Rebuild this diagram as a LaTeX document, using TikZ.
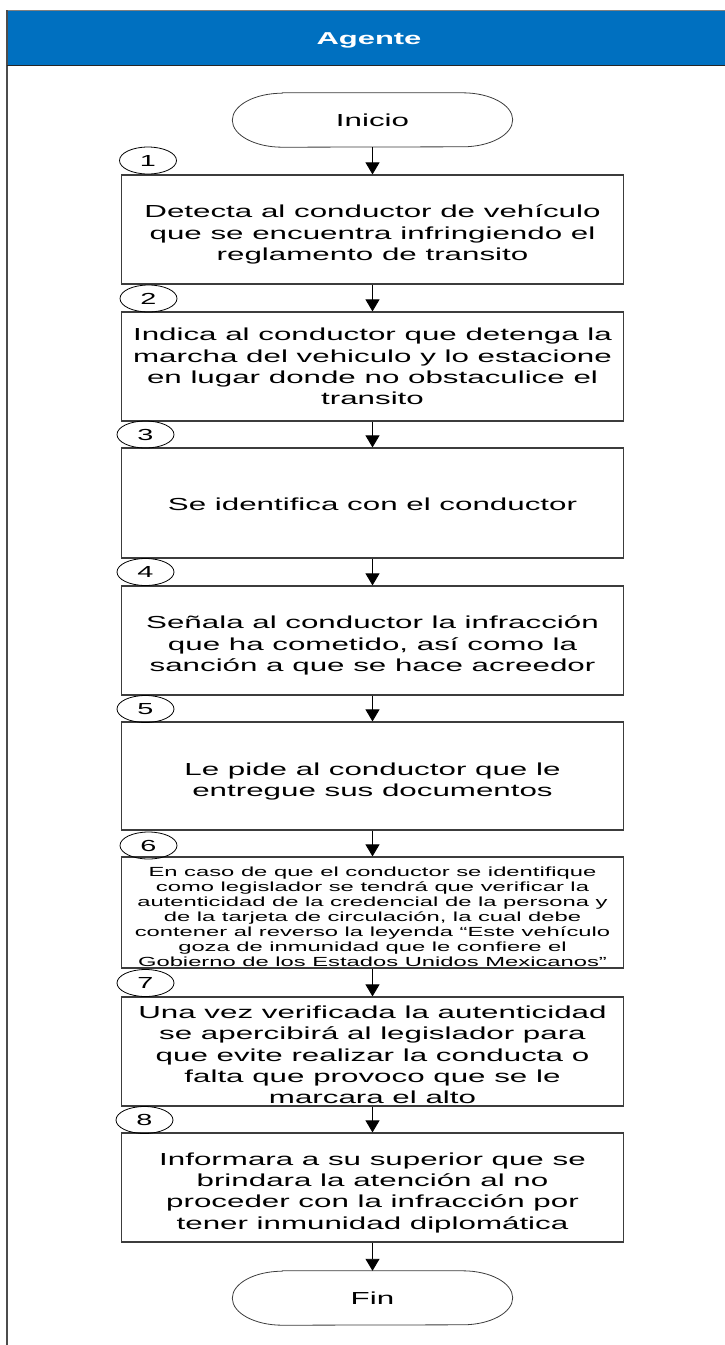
\documentclass[tikz,border=0pt]{standalone}
\usepackage{fontspec}
\setmainfont{Liberation Sans}
\newfontfamily\wfont{Liberation Sans}[FakeStretch=1.8]
\usetikzlibrary{shapes.geometric,arrows.meta}
\definecolor{lanehead}{RGB}{0,112,192}
\definecolor{edge}{RGB}{60,60,60}
\newcommand\TopS{\rule{0pt}{23.3pt}}
\newcommand\BotS{\rule[-4pt]{0pt}{4pt}}
\newcommand\TopR{\rule{0pt}{19.3pt}}
\newcommand\TopU{\rule{0pt}{20.5pt}}
\newcommand\BotU{\rule[-1.3pt]{0pt}{1.3pt}}
\newcommand\TopT{\rule{0pt}{18.9pt}}
\begin{document}
\begin{tikzpicture}[x=1pt,y=-1pt,
  stepbox/.style={draw=edge,line width=1.2pt,fill=white,minimum width=502pt,inner sep=1pt,align=center,
    font=\wfont\fontsize{17.4}{21.3}\selectfont},
  smallbox/.style={stepbox,font=\wfont\fontsize{13.2}{15}\selectfont},
  numtag/.style={draw=black,line width=0.8pt,ellipse,minimum width=57pt,minimum height=27pt,inner sep=0pt,
    font=\wfont\fontsize{16}{18}\selectfont},
  termbox/.style={minimum width=280pt,minimum height=54pt,inner sep=0pt,font=\wfont\fontsize{17.4}{21}\selectfont},
  termline/.style={draw=edge,line width=0.8pt},
  arr/.style={draw=black,line width=0.9pt,-{Triangle[width=14pt,length=12pt]}},
  header/.style={fill=lanehead,draw=gray,line width=1pt,minimum width=724pt,minimum height=55pt,inner sep=0pt,
    text=white,font=\wfont\bfseries\fontsize{17.2}{20}\selectfont}]
\useasboundingbox (0,0) rectangle (725,1345);
% lane
\node[header] (hdr) at (369,37.5) {\rule{0pt}{18.7pt}Agente\rule[-4pt]{0pt}{4pt}};
\coordinate (lanetop) at (7,10);
\coordinate (lanebot) at (7,1345);
\draw[draw=black!70,line width=2pt] (lanetop) -- (lanebot);
\draw[draw=black!85,line width=1.2pt] (hdr.south west) -- (hdr.south east);
% terminators
\node[termbox] (inicio) at (372.5,120) {Inicio};
\node[termbox] (fin) at (372.5,1298) {Fin};
\foreach \t in {inicio,fin}{
  \draw[termline] ([xshift=50]\t.north west) -- ([xshift=-50]\t.north east)
    arc[start angle=90,end angle=-90,x radius=50pt,y radius=27pt]
    -- ([xshift=50]\t.south west)
    arc[start angle=270,end angle=90,x radius=50pt,y radius=27pt] -- cycle;
}
% steps
\node[stepbox,minimum height=109pt] (b1) at (372.5,229.5) {\TopS Detecta al conductor de vehículo\\que se encuentra infringiendo el\\reglamento de transito\BotS};
\node[stepbox,minimum height=109pt] (b2) at (372.5,366.5) {Indica al conductor que detenga la\\marcha del vehiculo y lo estacione\\en lugar donde no obstaculice el\\transito};
\node[stepbox,minimum height=110pt] (b3) at (372.5,503) {\TopR Se identifica con el conductor\BotS};
\node[stepbox,minimum height=109pt] (b4) at (372.5,640.5) {\TopS Señala al conductor la infracción\\que ha cometido, así como la\\sanción a que se hace acreedor\BotS};
\node[stepbox,minimum height=108pt] (b5) at (372.5,776) {\TopS Le pide al conductor que le\\entregue sus documentos\BotS};
\node[smallbox,minimum height=111pt] (b6) at (372.5,912.5) {\TopT En caso de que el conductor se identifique\\como legislador se tendrá que verificar la\\autenticidad de la credencial de la persona y\\de la tarjeta de circulación, la cual debe\\contener al reverso la leyenda “Este vehículo\\goza de inmunidad que le confiere el\\Gobierno de los Estados Unidos Mexicanos”};
\node[stepbox,minimum height=109pt] (b7) at (372.5,1051.5) {\TopU Una vez verificada la autenticidad\\se apercibirá al legislador para\\que evite realizar la conducta o\\falta que provoco que se le\\marcara el alto\BotU};
\node[stepbox,minimum height=109pt] (b8) at (372.5,1187.5) {\TopS Informara a su superior que se\\brindara la atención al no\\proceder con la infracción por\\tener inmunidad diplomática\BotS};
% number tags
\node[numtag] (n1) at (148,160.5) {1};
\node[numtag] (n2) at (148.5,298.5) {2};
\node[numtag] (n3) at (145.5,434.5) {3};
\node[numtag] (n4) at (145.5,572) {4};
\node[numtag] (n5) at (145.5,709) {5};
\node[numtag] (n6) at (148.5,845.5) {6};
\node[numtag] (n7) at (145.5,983) {7};
\node[numtag] (n8) at (144.5,1120) {8};
% connectors
\draw[arr] (inicio.south) -- (b1.north);
\draw[arr] (b1.south) -- (b2.north);
\draw[arr] (b2.south) -- (b3.north);
\draw[arr] (b3.south) -- (b4.north);
\draw[arr] (b4.south) -- (b5.north);
\draw[arr] (b5.south) -- (b6.north);
\draw[arr] (b6.south) -- (b7.north);
\draw[arr] (b7.south) -- (b8.north);
\draw[arr] (b8.south) -- (fin.north);
\end{tikzpicture}
\end{document}
